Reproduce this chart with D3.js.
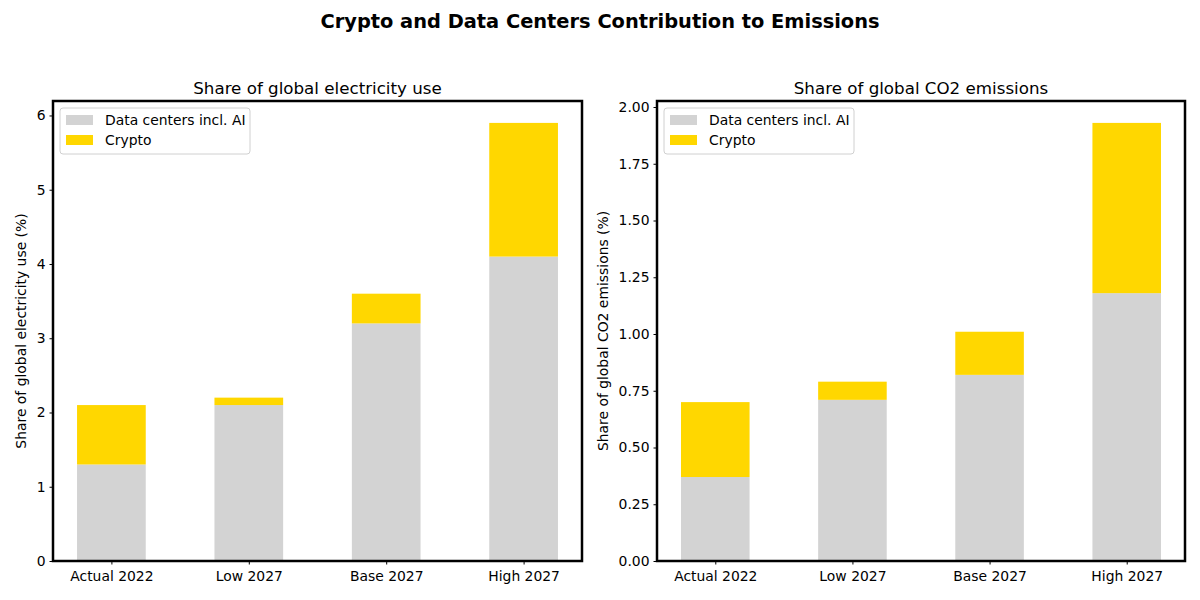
<!DOCTYPE html>
<html><head><meta charset="utf-8">
<script src="https://cdn.jsdelivr.net/npm/d3@7"></script>
<style>body{margin:0;background:#fff}svg{font-family:"DejaVu Sans",sans-serif}</style>
</head><body>
<svg id="c" width="1200" height="600"></svg>
<script>
const categories = ["Actual 2022","Low 2027","Base 2027","High 2027"];
const seriesNames = ["Data centers incl. AI","Crypto"];
const colors = ["#d3d3d3","#ffd700"];
const elecData = [1.3, 2.1, 3.2, 4.1];
const elecCrypto = [0.8, 0.1, 0.4, 1.8];
const co2Data = [0.37, 0.71, 0.82, 1.18];
const co2Crypto = [0.33, 0.08, 0.19, 0.75];
const elecTicks = [0,1,2,3,4,5,6];
const co2Ticks = [0,0.25,0.5,0.75,1.0,1.25,1.5,1.75,2.0];

const FS = 13.9;
const svg = d3.select("#c");
svg.append("text").attr("x",600).attr("y",28).attr("text-anchor","middle")
  .attr("font-size",19.4).attr("font-weight","bold").text("Crypto and Data Centers Contribution to Emissions");

function panel(x0, x1, title, ylabel, base, top, ticks, fmt, labelX){
  const yTop=101, yBot=561;
  const g = svg.append("g");
  const x = d3.scaleLinear().domain([-0.425, 3.425]).range([x0, x1]);
  const maxV = d3.max(base.map((d,i)=>d+top[i]));
  const y = d3.scaleLinear().domain([0, maxV*1.05]).range([yBot, yTop]);
  const bw = x(0.5)-x(0);
  g.selectAll(".b").data(base).enter().append("rect")
    .attr("x",(d,i)=>x(i)-bw/2).attr("width",bw)
    .attr("y",d=>y(d)).attr("height",d=>y(0)-y(d)).attr("fill",colors[0]);
  g.selectAll(".t").data(top).enter().append("rect")
    .attr("x",(d,i)=>x(i)-bw/2).attr("width",bw)
    .attr("y",(d,i)=>y(base[i]+d)).attr("height",(d,i)=>y(base[i])-y(base[i]+d)).attr("fill",colors[1]);
  const ya = g.append("g").attr("transform",`translate(${x0},0)`)
    .call(d3.axisLeft(y).tickValues(ticks).tickFormat(fmt).tickSizeOuter(0).tickSize(3.5).tickPadding(4));
  ya.select(".domain").remove();
  ya.selectAll("text").attr("font-size",FS).attr("fill","#000").attr("font-family","DejaVu Sans");
  ya.selectAll("line").attr("stroke","#000");
  const xa = g.append("g").attr("transform",`translate(0,${yBot})`)
    .call(d3.axisBottom(x).tickValues([0,1,2,3]).tickFormat(i=>categories[i]).tickSizeOuter(0).tickSize(3.5).tickPadding(7));
  xa.select(".domain").remove();
  xa.selectAll("text").attr("font-size",FS).attr("fill","#000").attr("font-family","DejaVu Sans");
  xa.selectAll("line").attr("stroke","#000");
  g.append("rect").attr("x",x0).attr("y",yTop).attr("width",x1-x0).attr("height",yBot-yTop)
    .attr("fill","none").attr("stroke","#000").attr("stroke-width",2.5);
  g.append("text").attr("x",(x0+x1)/2).attr("y",yTop-7).attr("text-anchor","middle")
    .attr("font-size",16.7).text(title);
  g.append("text").attr("transform",`translate(${labelX},${(yTop+yBot)/2}) rotate(-90)`)
    .attr("text-anchor","middle").attr("font-size",FS).text(ylabel);
  // legend
  const lg = g.append("g").attr("transform",`translate(${x0+7},${yTop+7})`);
  lg.append("rect").attr("width",190).attr("height",46).attr("rx",3).attr("fill","#fff")
    .attr("stroke","#d0d0d0").attr("stroke-width",1);
  seriesNames.forEach((n,i)=>{
    lg.append("rect").attr("x",6).attr("y",7+i*20).attr("width",27).attr("height",10).attr("fill",colors[i]);
    lg.append("text").attr("x",45).attr("y",17+i*20).attr("font-size",FS).text(n);
  });
}
panel(53, 582, "Share of global electricity use", "Share of global electricity use (%)", elecData, elecCrypto, elecTicks, d3.format("d"), 26);
panel(657, 1185, "Share of global CO2 emissions", "Share of global CO2 emissions (%)", co2Data, co2Crypto, co2Ticks, d3.format(".2f"), 608);
</script>
</body></html>
